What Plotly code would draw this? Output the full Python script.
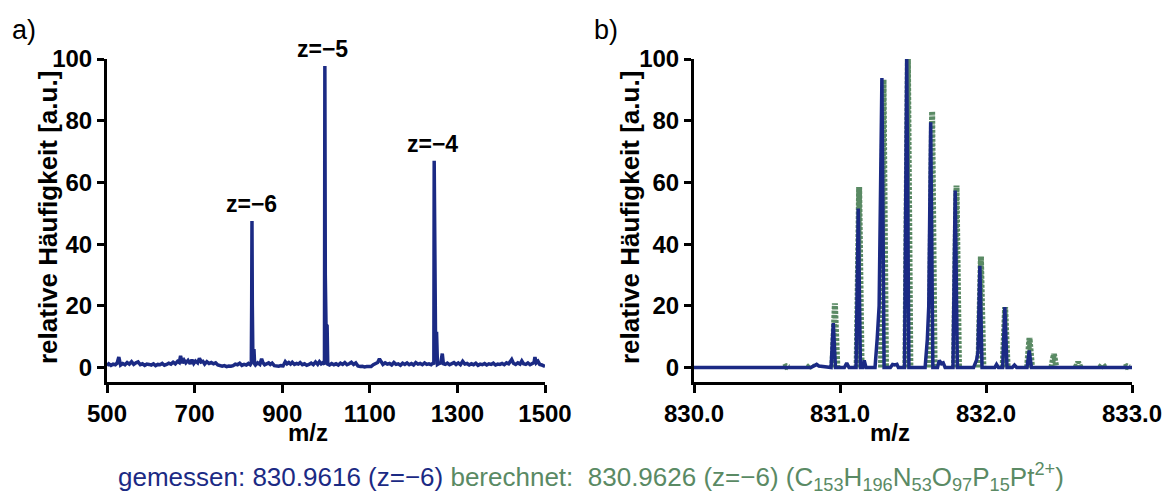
import plotly.graph_objects as go

# ---------------- Panel a: full spectrum (m/z vs relative intensity) ----------------
mz_a = [500, 504, 509, 514, 519, 523, 527, 531, 536, 541, 546, 551, 556, 561, 566, 571, 576, 581,
        586, 591, 596, 601, 606, 611, 616, 621, 626, 631, 636, 641, 646, 651, 656, 661, 665, 668,
        672, 676, 680, 685, 690, 694, 698, 702, 707, 711, 715, 719, 723, 728, 733, 738, 743, 748,
        753, 758, 763, 768, 773, 778, 783, 788, 793, 798, 803, 808, 813, 818, 823, 827, 829.5, 830.3,
        831, 831.8, 833, 835.5, 837, 839, 844, 849, 853, 856, 860, 864, 869, 873, 877, 882, 887,
        892, 897, 902, 907, 911, 915, 919, 923, 928, 933, 937, 941, 946, 951, 956, 961, 966, 971,
        976, 981, 985, 989, 993, 996.5, 997.4, 998.4, 1000, 1002.5, 1004, 1008, 1013, 1018, 1023,
        1028, 1033, 1038, 1043, 1048, 1053, 1058, 1063, 1068, 1073, 1078, 1083, 1088, 1093, 1098,
        1103, 1108, 1113, 1118, 1122, 1126, 1130, 1135, 1140, 1145, 1150, 1155, 1160, 1165, 1170,
        1175, 1180, 1185, 1190, 1195, 1200, 1205, 1210, 1215, 1220, 1225, 1230, 1235, 1240, 1244,
        1246.2, 1247, 1248, 1250, 1252.5, 1254.5, 1258, 1262, 1265.5, 1268, 1272, 1277, 1282, 1287,
        1292, 1297, 1302, 1307, 1312, 1317, 1322, 1327, 1332, 1337, 1342, 1347, 1352, 1357, 1362,
        1367, 1372, 1377, 1382, 1387, 1392, 1397, 1402, 1407, 1412, 1417, 1421, 1424, 1428, 1433,
        1438, 1443, 1447, 1451, 1456, 1461, 1466, 1471, 1475, 1477, 1480, 1484, 1488, 1493, 1497, 1500]
int_a = [0.6, 1.2, 0.7, 1.1, 0.9, 1.4, 3.4, 0.8, 1.3, 0.9, 1.6, 1.1, 1.9, 1.0, 1.5, 1.8, 0.9, 1.2,
         0.7, 1.1, 1.0, 0.8, 1.2, 0.6, 1.0, 0.9, 1.3, 0.7, 1.0, 1.4, 1.1, 1.7, 1.2, 2.0, 1.6, 3.8,
         1.4, 2.4, 1.5, 2.3, 1.2, 2.5, 1.3, 2.1, 1.5, 3.0, 1.8, 2.0, 1.1, 1.9, 1.3, 1.6, 1.2, 1.5,
         0.8, 0.5, 0.4, 0.6, 0.3, 0.5, 0.4, 0.6, 1.1, 0.9, 1.4, 0.7, 1.0, 0.8, 1.3, 0.9, 1.5, 20,
         47.5, 20, 4, 6, 1.2, 0.8, 1.5, 1.0, 2.8, 1.6, 0.9, 1.3, 1.5, 1.0, 1.4, 0.6, 0.5,
         0.4, 0.6, 0.5, 1.9, 1.2, 1.6, 1.1, 1.7, 1.0, 1.3, 1.1, 1.6, 0.9, 1.2, 0.7, 1.0, 1.4, 0.9,
         1.8, 1.0, 1.9, 1.2, 1.6, 1.0, 97.7, 30, 14, 13.5, 1.1, 0.8, 1.3, 0.9, 1.2,
         0.8, 1.4, 1.0, 1.6, 0.9, 1.2, 1.7, 1.0, 1.5, 0.5, 0.3, 0.4, 0.2, 0.3, 0.4,
         0.3, 0.9, 1.2, 1.6, 2.8, 1.9, 1.0, 1.5, 1.1, 1.3, 0.8, 1.6, 1.0, 1.2, 0.7,
         1.4, 1.0, 1.5, 0.9, 1.3, 0.8, 1.6, 1.1, 1.3, 0.9, 1.5, 1.0, 1.2, 0.9, 1.4,
         1.0, 67, 25, 11, 11, 1.0, 1.3, 1.5, 4.5, 1.2, 1.0, 1.4, 0.9, 1.3,
         1.6, 1.0, 1.5, 0.9, 2.0, 1.1, 1.3, 0.8, 1.2, 0.9, 1.4, 0.7, 1.1, 0.9, 1.3,
         0.8, 1.2, 1.0, 1.4, 0.8, 1.1, 1.0, 1.3, 0.9, 1.5, 1.2, 1.8, 2.6, 1.4, 1.0,
         1.5, 1.1, 2.1, 1.2, 1.0, 1.5, 0.9, 1.3, 1.6, 3.4, 1.5, 2.0, 1.0, 0.8, 0.5, 0.4]

# charge-state labels, anchored just above their peaks
charge_labels = ["z=−6", "z=−5", "z=−4"]
charge_label_x = [831, 993, 1244]
charge_label_y = [47.5, 97.7, 67]

# ---------------- Panel b: isotope pattern, measured (blue) ----------------
mz_meas = [830.00, 830.80, 830.825, 830.84, 830.855, 830.939, 830.954, 830.969, 831.030, 831.046,
           831.062, 831.110, 831.125, 831.140, 831.155, 831.166, 831.178, 831.240, 831.255, 831.268,
           831.287, 831.302, 831.345, 831.36, 831.375, 831.39, 831.40, 831.442, 831.457, 831.472,
           831.583, 831.598, 831.608, 831.621, 831.636, 831.668, 831.68, 831.695, 831.707, 831.72,
           831.774, 831.789, 831.804, 831.915, 831.936, 831.945, 831.958, 831.973, 832.06, 832.072,
           832.085, 832.114, 832.129, 832.144, 832.18, 832.195, 832.21, 832.281, 832.296, 832.311, 833.0]
int_meas = [0, 0, 0.6, 1.0, 0.5, 0, 14.4, 0, 0, 1.4,
            0, 0, 51.5, 0, 0, 2.3, 0, 0, 9.5, 20,
            93.8, 0, 0, 1.0, 0.8, 1.0, 0, 0, 100, 0,
            0, 9, 20, 79.5, 0, 0, 2.3, 1.2, 1.5, 0,
            0, 57.4, 0, 0, 2.5, 5, 33, 0, 0, 1.0,
            0, 0, 19.6, 0, 0, 0.8, 0, 0, 5.5, 0, 0]

# ---------------- Panel b: calculated pattern (green), one hump per isotope peak ----------------
mz_calc = [830.615, 830.632, 830.649, None,
           830.781, 830.798, 830.815, None,
           830.948, 830.965, 830.982, None,
           831.114, 831.131, 831.148, None,
           831.281, 831.298, 831.315, None,
           831.448, 831.465, 831.482, None,
           831.614, 831.631, 831.648, None,
           831.781, 831.798, 831.815, None,
           831.948, 831.965, 831.982, None,
           832.114, 832.131, 832.148, None,
           832.281, 832.298, 832.315, None,
           832.448, 832.465, 832.482, None,
           832.614, 832.631, 832.648, None,
           832.781, 832.798, 832.815, None,
           832.948, 832.965, 832.982]
int_calc = [0, 0.4, 0, None,
            0, 0.8, 0, None,
            0, 20.8, 0, None,
            0, 58.5, 0, None,
            0, 93.3, 0, None,
            0, 100, 0, None,
            0, 83, 0, None,
            0, 59, 0, None,
            0, 36, 0, None,
            0, 19.6, 0, None,
            0, 9.6, 0, None,
            0, 4.4, 0, None,
            0, 1.7, 0, None,
            0, 1.0, 0, None,
            0, 0.4, 0]

xticks_a = [500, 700, 900, 1100, 1300, 1500]
xticks_b = [830.0, 831.0, 832.0, 833.0]
xticklabels_b = ["830.0", "831.0", "832.0", "833.0"]
yticks = [0, 20, 40, 60, 80, 100]

BLUE = "#1b2a84"
GREEN = "#5a8a64"
FONT = "Liberation Sans, Arial, Helvetica, sans-serif"

# page body has an 8px margin: the figure is sized so that it fills the window exactly
OFF = 8
W, H = 1172 - OFF, 495 - OFF

def px_x(p):
    return (p - OFF) / W

def px_y(p):
    return 1 - (p - OFF) / H

fig = go.Figure()

fig.add_trace(go.Scatter(x=mz_a, y=int_a, mode="lines",
                         line=dict(color=BLUE, width=3.5), xaxis="x", yaxis="y",
                         showlegend=False, hoverinfo="skip"))
fig.add_trace(go.Scatter(x=mz_calc, y=int_calc, mode="lines", connectgaps=False,
                         line=dict(color=GREEN, width=6, dash="3px,1.5px"), xaxis="x2", yaxis="y2",
                         showlegend=False, hoverinfo="skip"))
fig.add_trace(go.Scatter(x=mz_meas, y=int_meas, mode="lines",
                         line=dict(color=BLUE, width=3.5), xaxis="x2", yaxis="y2",
                         showlegend=False, hoverinfo="skip"))

y_dom = [px_y(382), px_y(59)]
y_rng = [-4.7, 100]

common_axis = dict(showline=True, linewidth=3, linecolor="black", ticks="outside",
                   tickwidth=3, tickcolor="black", showgrid=False, zeroline=False,
                   automargin=False,
                   tickfont=dict(family=FONT, size=24, color="black", weight="bold"))

fig.update_layout(
    template="none",
    width=W, height=H,
    margin=dict(l=0, r=0, t=0, b=0, pad=0, autoexpand=False),
    paper_bgcolor="white", plot_bgcolor="white",
    xaxis=dict(domain=[px_x(107), px_x(545)], range=[500, 1500], tickvals=xticks_a,
               ticklen=8, anchor="y", **common_axis),
    yaxis=dict(domain=y_dom, range=y_rng, tickvals=yticks, ticklen=7, anchor="x", **common_axis),
    xaxis2=dict(domain=[px_x(694), px_x(1132)], range=[830, 833], tickvals=xticks_b,
                ticktext=xticklabels_b, ticklen=8, anchor="y2", **common_axis),
    yaxis2=dict(domain=y_dom, range=y_rng, tickvals=yticks, ticklen=7, anchor="x2", **common_axis),
)

annotations = []
for t, x, y in zip(charge_labels, charge_label_x, charge_label_y):
    annotations.append(dict(text="<b>" + t + "</b>", x=x, y=y, xref="x", yref="y",
                            showarrow=False, xanchor="center", yanchor="bottom", yshift=2,
                            font=dict(family=FONT, size=23, color="black")))

# axis titles
for cx in (48, 630):
    annotations.append(dict(text="<b>relative Häufigkeit [a.u.]</b>", x=px_x(cx), y=px_y(218),
                            xref="paper", yref="paper", showarrow=False, textangle=-90,
                            xanchor="center", yanchor="middle",
                            font=dict(family=FONT, size=26, color="black")))
for cx in (308, 890):
    annotations.append(dict(text="<b>m/z</b>", x=px_x(cx), y=px_y(432), xref="paper", yref="paper",
                            showarrow=False, xanchor="center", yanchor="middle",
                            font=dict(family=FONT, size=24, color="black")))

# panel labels
annotations.append(dict(text="a)", x=px_x(24), y=px_y(30), xref="paper", yref="paper",
                        showarrow=False, xanchor="center", yanchor="middle",
                        font=dict(family=FONT, size=27, color="black")))
annotations.append(dict(text="b)", x=px_x(606), y=px_y(30), xref="paper", yref="paper",
                        showarrow=False, xanchor="center", yanchor="middle",
                        font=dict(family=FONT, size=27, color="black")))

caption = ('<span style="color:' + BLUE + '">gemessen:\u00a0830.9616 (z=−6)</span> '
           '<span style="color:' + GREEN + '">berechnet:\u00a0\u00a0830.9626 (z=−6) '
           '(C<sub>153</sub>H<sub>196</sub>N<sub>53</sub>O<sub>97</sub>P<sub>15</sub>Pt<sup>2+</sup>)</span>')
annotations.append(dict(text=caption, x=px_x(591), y=px_y(477), xref="paper", yref="paper",
                        showarrow=False, xanchor="center", yanchor="middle",
                        font=dict(family=FONT, size=26, color=BLUE)))

fig.update_layout(annotations=annotations)

fig.write_html("out.html")
